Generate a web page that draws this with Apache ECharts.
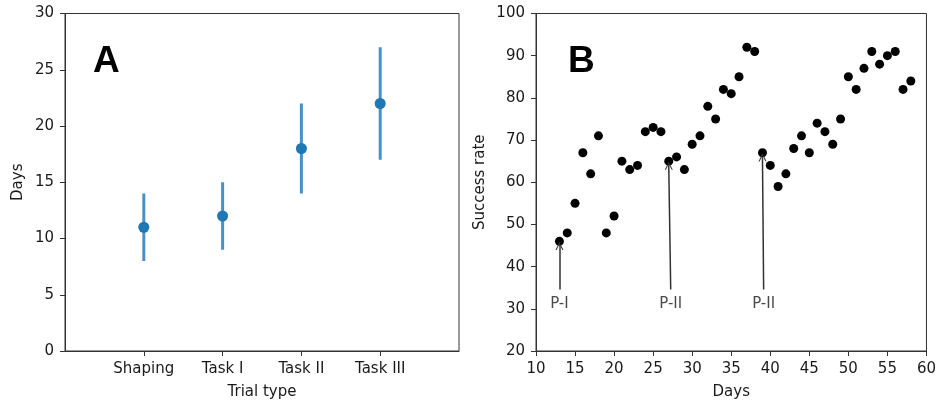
<!DOCTYPE html>
<html><head><meta charset="utf-8">
<script src="https://cdn.jsdelivr.net/npm/echarts@6/dist/echarts.min.js"></script>
<style>html,body{margin:0;padding:0;background:#fff}#c{width:939px;height:405px}</style>
</head><body><div id="c"></div>
<script>
// Panel A data
const trialTypes = ['Shaping', 'Task I', 'Task II', 'Task III'];
const meanDays = [11, 12, 18, 22];
const lowDays = [8, 9, 14, 17];
const highDays = [14, 15, 22, 27];
const yTicksA = [0, 5, 10, 15, 20, 25, 30];

// Panel B data
const days = [13,14,15,16,17,18,19,20,21,22,23,24,25,26,27,28,29,30,31,32,33,34,35,36,37,38,39,40,41,42,43,44,45,46,47,48,49,50,51,52,53,54,55,56,57,58];
const successRate = [46,48,55,67,62,71,48,52,65,63,64,72,73,72,65,66,63,69,71,78,75,82,81,85,92,91,67,64,59,62,68,71,67,74,72,69,75,85,82,87,91,88,90,91,82,84];
const annotLabels = ['P-I', 'P-II', 'P-II'];
const annotTextPos = [[13, 31.0], [27.25, 31.0], [39.15, 31.0]];
const annotArrowStart = [[13, 34.6], [27.25, 34.6], [39.15, 34.6]];
const annotArrowEnd = [[13, 44.9], [27, 63.9], [39, 65.9]];

const FONT = 'DejaVu Sans';
const FS = 15;
const TXT = '#1a1a1a';
const AX = '#333';

const catsA = [''].concat(trialTypes).concat(['']);
const chart = echarts.init(document.getElementById('c'), null, {renderer: 'canvas'});

// open chevron arrow head (matplotlib "->" style)
const CHEVRON = 'path://M0,10 L5,0 L10,10 L8.6,10 L5,2.8 L1.4,10 Z';

const option = {
  animation: false,
  textStyle: {fontFamily: FONT},
  grid: [
    {left: 65, top: 13.5, width: 394, height: 337.5, show: true, borderColor: AX, borderWidth: 1, backgroundColor: 'transparent'},
    {left: 536, top: 13.5, width: 394, height: 337.5, show: true, borderColor: AX, borderWidth: 1, backgroundColor: 'transparent'}
  ],
  xAxis: [
    {
      gridIndex: 0, type: 'category', data: catsA, boundaryGap: false,
      name: 'Trial type', nameLocation: 'middle', nameGap: 34,
      nameTextStyle: {fontSize: FS, color: TXT, fontFamily: FONT},
      axisLine: {lineStyle: {color: AX, width: 1}},
      axisTick: {show: true, length: 5, lineStyle: {color: AX}, interval: function (i) { return i > 0 && i < catsA.length - 1; }},
      axisLabel: {fontSize: FS, color: TXT, fontFamily: FONT, margin: 11, interval: function (i) { return i > 0 && i < catsA.length - 1; }},
      splitLine: {show: false}
    },
    {
      gridIndex: 1, type: 'value', min: 10, max: 60, interval: 5,
      name: 'Days', nameLocation: 'middle', nameGap: 34,
      nameTextStyle: {fontSize: FS, color: TXT, fontFamily: FONT},
      axisLine: {lineStyle: {color: AX, width: 1}},
      axisTick: {show: true, length: 5, lineStyle: {color: AX}},
      axisLabel: {fontSize: FS, color: TXT, fontFamily: FONT, margin: 11},
      splitLine: {show: false}
    }
  ],
  yAxis: [
    {
      gridIndex: 0, type: 'value', min: yTicksA[0], max: yTicksA[yTicksA.length - 1], interval: 5,
      name: 'Days', nameLocation: 'middle', nameGap: 39,
      nameTextStyle: {fontSize: FS, color: TXT, fontFamily: FONT},
      axisLine: {show: true, lineStyle: {color: AX, width: 1}},
      axisTick: {show: true, length: 5, lineStyle: {color: AX}},
      axisLabel: {fontSize: FS, color: TXT, fontFamily: FONT, margin: 11},
      splitLine: {show: false}
    },
    {
      gridIndex: 1, type: 'value', min: 20, max: 100, interval: 10,
      name: 'Success rate', nameLocation: 'middle', nameGap: 48,
      nameTextStyle: {fontSize: FS, color: TXT, fontFamily: FONT},
      axisLine: {show: true, lineStyle: {color: AX, width: 1}},
      axisTick: {show: true, length: 5, lineStyle: {color: AX}},
      axisLabel: {fontSize: FS, color: TXT, fontFamily: FONT, margin: 11},
      splitLine: {show: false}
    }
  ],
  graphic: [
    {type: 'text', left: 93, top: 43, style: {text: 'A', font: 'bold 37px "Liberation Sans", Arial, sans-serif', fill: '#000'}},
    {type: 'text', left: 568, top: 43, style: {text: 'B', font: 'bold 37px "Liberation Sans", Arial, sans-serif', fill: '#000'}}
  ],
  series: [
    {
      type: 'custom', xAxisIndex: 0, yAxisIndex: 0, z: 2,
      data: trialTypes.map((t, i) => [t, lowDays[i], highDays[i]]),
      renderItem: function (params, api) {
        const p1 = api.coord([api.value(0), api.value(1)]);
        const p2 = api.coord([api.value(0), api.value(2)]);
        return {type: 'line', shape: {x1: p1[0], y1: p1[1], x2: p2[0], y2: p2[1]}, style: {stroke: '#4a90c4', lineWidth: 3}};
      },
      encode: {x: 0, y: [1, 2]}
    },
    {
      type: 'scatter', xAxisIndex: 0, yAxisIndex: 0, z: 3,
      data: trialTypes.map((t, i) => [t, meanDays[i]]),
      symbol: 'circle', symbolSize: 11,
      itemStyle: {color: '#1f77b4', opacity: 1}
    },
    {
      type: 'scatter', xAxisIndex: 1, yAxisIndex: 1, z: 3,
      data: days.map((d, i) => [d, successRate[i]]),
      symbol: 'circle', symbolSize: 9,
      itemStyle: {color: '#000', opacity: 1}
    },
    {
      type: 'line', xAxisIndex: 1, yAxisIndex: 1, z: 5,
      data: [],
      markLine: {
        silent: true, animation: false,
        symbol: ['none', CHEVRON], symbolSize: 8, symbolOffset: [0, 0],
        lineStyle: {color: '#333', width: 1.5, type: 'solid', opacity: 1},
        itemStyle: {color: '#333'},
        label: {show: false},
        data: annotArrowStart.map((s, i) => [{coord: s}, {coord: annotArrowEnd[i]}])
      }
    },
    {
      type: 'scatter', xAxisIndex: 1, yAxisIndex: 1, z: 4,
      data: annotTextPos.map((p, i) => [p[0], p[1], annotLabels[i]]),
      symbolSize: 0,
      label: {show: true, position: 'inside', formatter: p => p.value[2], fontSize: FS, color: TXT, fontFamily: FONT}
    }
  ]
};
chart.setOption(option);
</script>
</body></html>
